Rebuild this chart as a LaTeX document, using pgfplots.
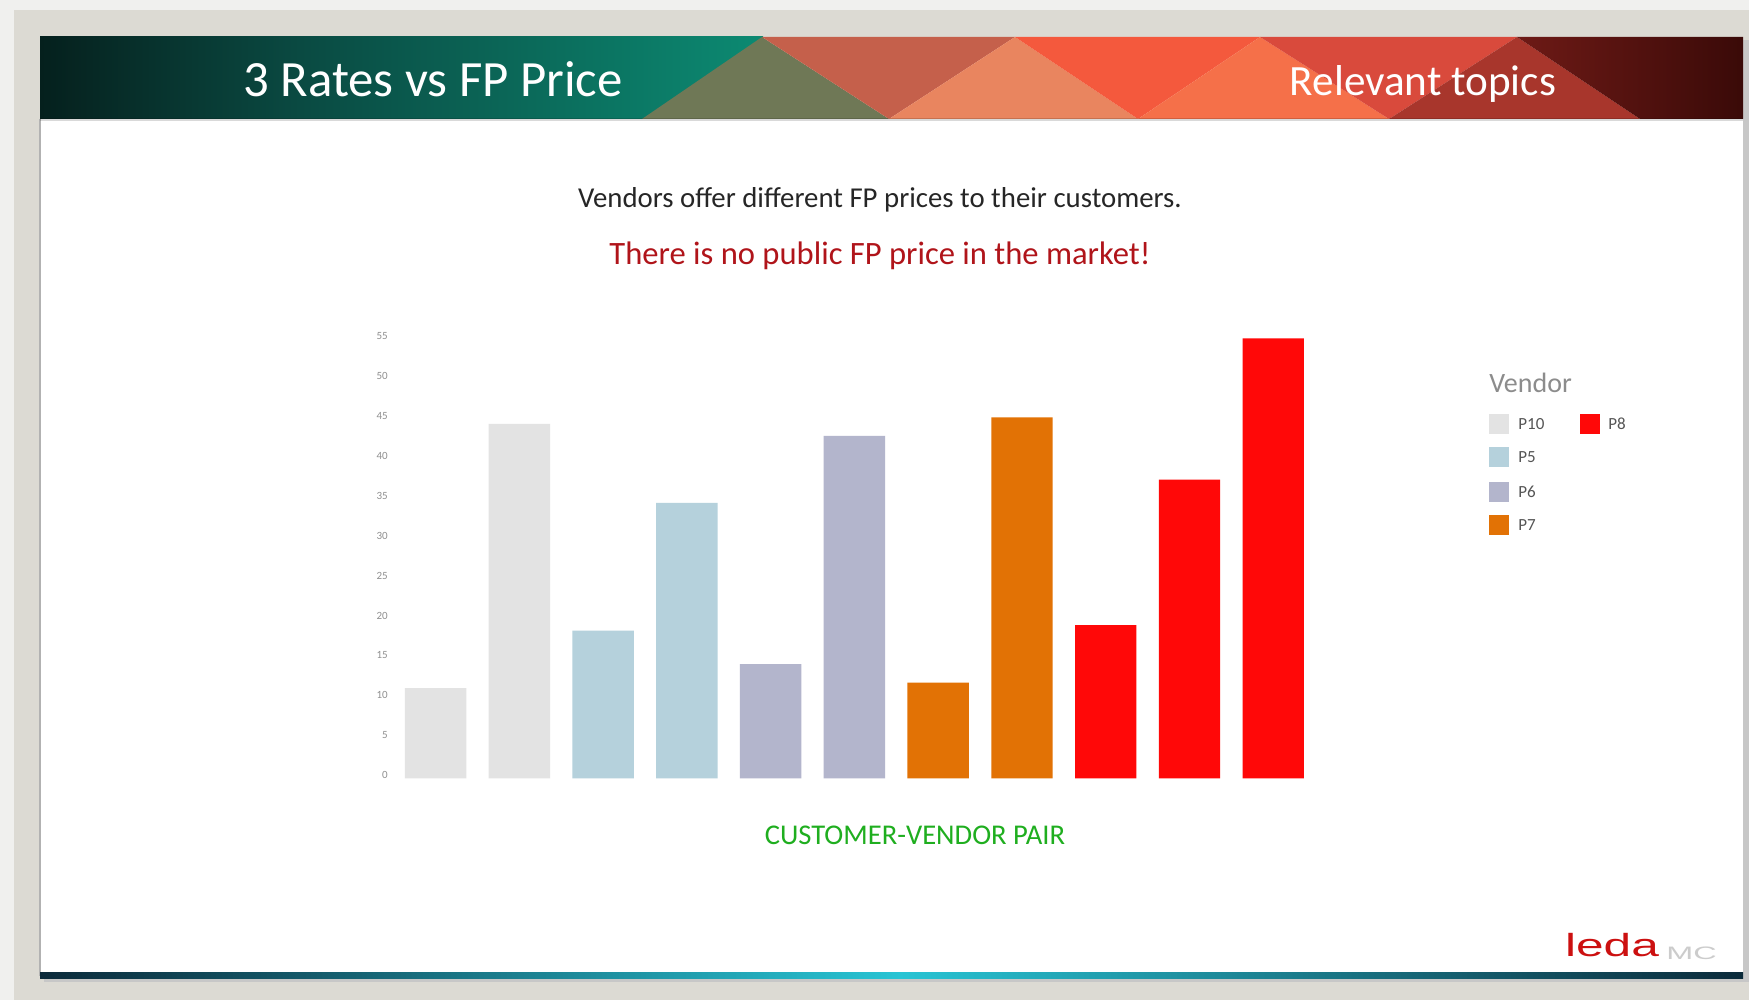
\documentclass[border=0pt]{standalone}
\usepackage{pgfplots}
\pgfplotsset{compat=1.18}
\usepackage{fontspec}
\setmainfont{Carlito}
\newfontfamily\logofont{Liberation Sans}
\definecolor{bgout}{HTML}{DCDAD3}
\definecolor{bglight}{HTML}{F0F0EE}
\definecolor{hdA}{HTML}{05201D}
\definecolor{hdB}{HTML}{0A4A42}
\definecolor{hdC}{HTML}{0C8A72}
\definecolor{tOlive}{HTML}{6F7856}
\definecolor{tBrown}{HTML}{C5604B}
\definecolor{tSalmon}{HTML}{E9855F}
\definecolor{tRedA}{HTML}{F4593D}
\definecolor{tOrange}{HTML}{F57049}
\definecolor{tRedB}{HTML}{D94A3C}
\definecolor{tRedC}{HTML}{A8362C}
\definecolor{tDark}{HTML}{6E1A16}
\definecolor{tDarker}{HTML}{3A0A08}
\definecolor{subred}{HTML}{B0141A}
\definecolor{axgreen}{HTML}{1FAE1F}
\definecolor{tickgray}{HTML}{909090}
\definecolor{leggray}{HTML}{8C8C8C}
\definecolor{labgray}{HTML}{555555}
\definecolor{cP10}{HTML}{E3E3E3}
\definecolor{cP5}{HTML}{B5D1DC}
\definecolor{cP6}{HTML}{B3B5CC}
\definecolor{cP7}{HTML}{E27205}
\definecolor{cP8}{HTML}{FF0808}
\definecolor{logored}{HTML}{CC1010}
\definecolor{lineA}{HTML}{0B2A3A}
\definecolor{lineB}{HTML}{28C4D4}
\begin{document}
\begin{tikzpicture}[x=0.5pt,y=0.5pt]
\useasboundingbox (0,0) rectangle (1749,1000);
% outer background
\fill[bgout] (0,0) rectangle (1749,1000);
\fill[bglight] (0,0) rectangle (14,1000);
\fill[bglight] (0,990) rectangle (1749,1000);
% slide shadow and slide
\fill[black!22] (44,18) rectangle (1749,960);
\fill[white] (40,24) rectangle (1743,963);
\draw[black!30, line width=1] (40,24) -- (40,881);
% header band
\shade[left color=hdA, right color=hdB] (40,881) rectangle (300,963);
\shade[left color=hdB, right color=hdC] (300,881) rectangle (763,963);
\fill[tOlive] (642,881) -- (889,881) -- (762,963) -- cycle;
\fill[tBrown] (762,963) -- (1015,963) -- (889,881) -- cycle;
\fill[tSalmon] (889,881) -- (1138,881) -- (1015,963) -- cycle;
\fill[tRedA] (1015,963) -- (1260,963) -- (1138,881) -- cycle;
\fill[tOrange] (1138,881) -- (1389,881) -- (1260,963) -- cycle;
\fill[tRedB] (1260,963) -- (1517,963) -- (1389,881) -- cycle;
\fill[tRedC] (1389,881) -- (1640,881) -- (1517,963) -- cycle;
\shade[left color=tDark, right color=tDarker] (1517,963) -- (1743,963) -- (1743,881) -- (1640,881) -- cycle;
\fill[black, opacity=0.15] (40,879) rectangle (1743,882);
\node[text=white, font=\fontsize{25.4}{30}\selectfont] at (433,921) {3 Rates vs FP Price};
\node[text=white, font=\fontsize{21.6}{26}\selectfont] at (1423,916) {Relevant topics};
% subtitles
\node[text=black!85, font=\fontsize{14.4}{17}\selectfont] at (880,800) {Vendors offer different FP prices to their customers.};
\node[text=subred, font=\fontsize{16.3}{19}\selectfont] at (880,744) {There is no public FP price in the market!};
% chart
\begin{axis}[at={(192.65pt,110.75pt)}, anchor=south west,
  width=469.1pt, height=223.7pt, scale only axis,
  xmin=-0.6, xmax=10.6, ymin=0, ymax=56,
  ytick={0,5,...,55}, xtick=\empty,
  axis line style={draw=none}, major tick style={draw=none},
  yticklabel style={font=\fontsize{5.5}{6}\selectfont, text=tickgray, anchor=east, inner sep=0pt, xshift=1.4pt, yshift=1.6pt},
  /pgf/number format/assume math mode=true,
  ybar, bar width=0.733, clip=false]
\addplot[fill=cP10, draw=none, bar shift=0pt] coordinates {(0,11.3) (1,44.4)};
\addplot[fill=cP5, draw=none, bar shift=0pt] coordinates {(2,18.5) (3,34.5)};
\addplot[fill=cP6, draw=none, bar shift=0pt] coordinates {(4,14.3) (5,42.9)};
\addplot[fill=cP7, draw=none, bar shift=0pt] coordinates {(6,12.0) (7,45.2)};
\addplot[fill=cP8, draw=none, bar shift=0pt] coordinates {(8,19.2) (9,37.4) (10,55.1)};
\end{axis}
\node[text=axgreen, font=\fontsize{14.3}{17}\selectfont] at (915,165) {CUSTOMER-VENDOR PAIR};
% legend
\node[anchor=west, text=leggray, font=\fontsize{14}{17}\selectfont, inner sep=0pt] at (1489,617) {Vendor};
\fill[cP10] (1489,566) rectangle (1509,586);
\fill[cP5] (1489,533) rectangle (1509,553);
\fill[cP6] (1489,498) rectangle (1509,518);
\fill[cP7] (1489,465) rectangle (1509,485);
\fill[cP8] (1580,566) rectangle (1600,586);
\begin{scope}[every node/.style={anchor=west, text=labgray, font=\fontsize{8.5}{10}\selectfont, inner sep=0pt}]
\node at (1518,576) {P10};
\node at (1518,543) {P5};
\node at (1518,508) {P6};
\node at (1518,475) {P7};
\node at (1608,576) {P8};
\end{scope}
% logo
\node[text=logored, inner sep=0pt] at (1612,55) {\scalebox{1.55}[1]{\logofont\fontsize{16}{16}\selectfont leda}};
\node[text=black!20, inner sep=0pt, anchor=west] at (1666,47) {\scalebox{1.8}[1]{\logofont\fontsize{9}{9}\selectfont MC}};
% bottom line
\shade[left color=lineA, right color=lineB] (40,21) rectangle (900,27);
\shade[left color=lineB, right color=lineA] (900,21) rectangle (1743,27);
\end{tikzpicture}
\end{document}
